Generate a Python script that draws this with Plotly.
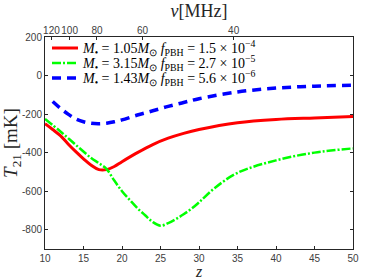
import plotly.graph_objects as go

# Data
z_red = [10, 11, 12, 13, 14, 15, 16, 17, 18, 19, 20, 22, 24, 26, 28, 30, 35, 40, 45, 50]
t_red = [-250, -280, -312, -355, -395, -432, -465, -488, -488, -472, -447, -400, -358, -325, -300, -280, -245, -228, -220, -213]

z_green = [10, 12, 14, 16, 17, 18, 19, 20, 21, 22, 23, 24, 25, 26, 27, 28, 29, 30, 32, 35, 40, 45, 50]
t_green = [-225, -290, -360, -428, -455, -485, -545, -600, -645, -688, -725, -760, -779, -766, -745, -720, -692, -658, -585, -505, -440, -400, -378]

z_blue = [11, 12, 13, 14, 15, 16, 17, 18, 19, 20, 22, 24, 26, 28, 30, 35, 40, 45, 50]
t_blue = [-135, -170, -200, -225, -240, -248, -250, -247, -240, -230, -205, -183, -160, -140, -120, -85, -65, -55, -50]

nu_ticks = [120, 100, 80, 60, 40]
y_ticks = [200, 0, -200, -400, -600, -800]
x_ticks = [10, 15, 20, 25, 30, 35, 40, 45, 50]

labels = [
    "<i>M</i><sub>•</sub> = 1.05<i>M</i><sub>⊙</sub> <i>f</i><sub>PBH</sub> = 1.5 × 10<sup>−4</sup>",
    "<i>M</i><sub>•</sub> = 3.15<i>M</i><sub>⊙</sub> <i>f</i><sub>PBH</sub> = 2.7 × 10<sup>−5</sup>",
    "<i>M</i><sub>•</sub> = 1.43<i>M</i><sub>⊙</sub> <i>f</i><sub>PBH</sub> = 5.6 × 10<sup>−6</sup>",
]
colors = ["#ff0000", "#00ff00", "#0000ff"]
widths = [3, 2.5, 3.5]
dashes = ["solid", "9px,2px,2px,2px", "9px,6px"]

serif = "Liberation Serif, Times New Roman, serif"
sans = "Liberation Sans, Arial, sans-serif"
tick_col = "#404040"

W, H = 374, 280
ML, MR, MT, MB = 45, 21, 37, 31
pw, ph = W - ML - MR, H - MT - MB

fig = go.Figure()
for zs, ts, lab, c, w, d in zip([z_red, z_green, z_blue], [t_red, t_green, t_blue],
                                labels, colors, widths, dashes):
    fig.add_trace(go.Scatter(x=zs, y=ts, mode="lines", name=lab, showlegend=False,
                             line=dict(color=c, width=w, shape="spline", dash=d)))
# invisible trace to activate the top axis
fig.add_trace(go.Scatter(x=[10, 50], y=[None, None], xaxis="x2", showlegend=False,
                         hoverinfo="skip", mode="lines"))

# custom compact legend (line samples + real text)
row_px = [48, 63, 78]
shapes, annots = [], []
for i, yp in enumerate(row_px):
    yy = (H - MB - yp) / ph
    shapes.append(dict(type="line", xref="paper", yref="paper",
                       x0=(52 - ML) / pw, x1=(78 - ML) / pw, y0=yy, y1=yy,
                       line=dict(color=colors[i], width=widths[i], dash=dashes[i])))
    annots.append(dict(xref="paper", yref="paper", x=(80 - ML) / pw, y=yy,
                       xanchor="left", yanchor="middle", showarrow=False,
                       text=labels[i], font=dict(family=serif, size=14, color="black")))

nu_pos = [1420.0 / n - 1 for n in nu_ticks]

fig.update_layout(
    width=W, height=H,
    margin=dict(l=ML, r=MR, t=MT, b=MB),
    plot_bgcolor="white", paper_bgcolor="white",
    shapes=shapes, annotations=annots,
    xaxis=dict(range=[10, 50], tickvals=x_ticks, ticktext=[str(v) for v in x_ticks],
               ticks="inside", ticklen=3, tickcolor="#262626", automargin=False,
               showline=True, linecolor="#262626", linewidth=1, mirror=True,
               showgrid=False, zeroline=False, tickangle=0,
               tickfont=dict(family=sans, size=10, color=tick_col),
               title=dict(text="<i>z</i>", font=dict(family=serif, size=16, color="#262626"), standoff=4)),
    xaxis2=dict(range=[10, 50], overlaying="x", side="top", tickvals=nu_pos,
                ticktext=[str(v) for v in nu_ticks], ticks="inside", ticklen=3,
                tickcolor="#262626", showgrid=False, zeroline=False, showline=False,
                automargin=False, tickangle=0,
                tickfont=dict(family=sans, size=10, color=tick_col),
                title=dict(text="<i>ν</i>[MHz]", font=dict(family=serif, size=18, color="#262626"), standoff=2)),
    yaxis=dict(range=[-900, 200], tickvals=y_ticks, ticktext=[str(v) for v in y_ticks],
               ticks="inside", ticklen=3, tickcolor="#262626", automargin=False,
               showline=True, linecolor="#262626", linewidth=1, mirror="ticks",
               showgrid=False, zeroline=False,
               tickfont=dict(family=sans, size=10, color=tick_col),
               title=dict(text="<i>T</i><sub>21</sub> [mK]", font=dict(family=serif, size=19, color="#262626"), standoff=3)),
)

fig.write_html("out.html", config={"displayModeBar": False},
               post_script="document.body.style.margin='0';")
